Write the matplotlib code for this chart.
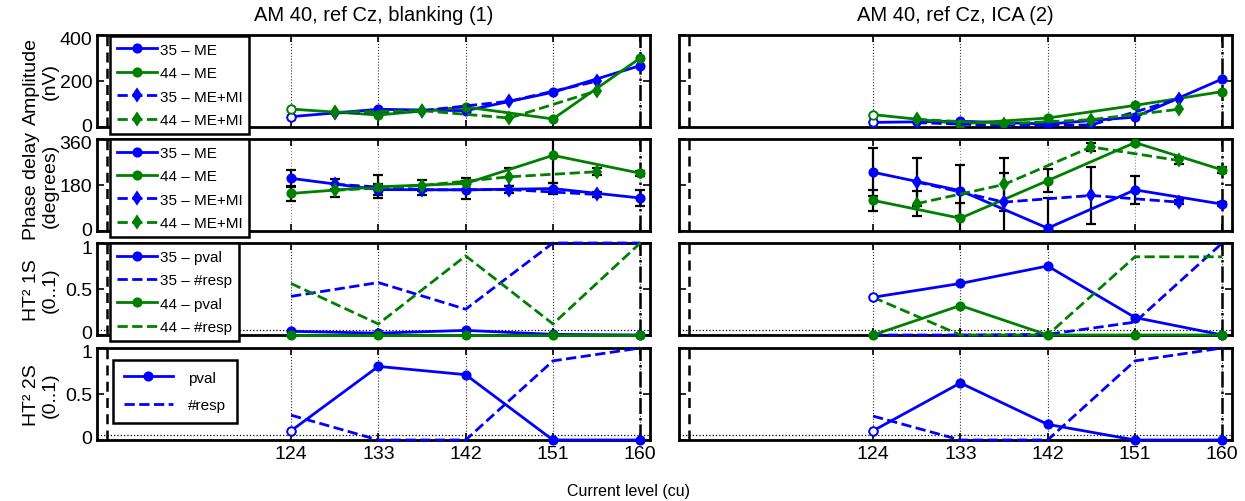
import matplotlib
matplotlib.use("Agg")
import matplotlib.pyplot as plt
from matplotlib.transforms import ScaledTranslation

plt.rcParams['font.family'] = ['Liberation Sans', 'DejaVu Sans']

# current levels
x_me = [124, 133, 142, 151, 160]
x_mi = [128.5, 137.5, 146.5, 155.5]
x_ticks = [124, 133, 142, 151, 160]

titles = ['AM 40, ref Cz, blanking (1)', 'AM 40, ref Cz, ICA (2)']

# amplitude (nV)
amp_35_me = [[45, 77, 71, 151, 267], [20, 25, 13, 43, 209]]
amp_44_me = [[78, 52, 87, 35, 300], [54, 14, 39, 94, 154]]
amp_35_mi = [[61, 71, 112, 199], [19, 6, 9, 122]]
amp_44_mi = [[64, 71, 39, 157], [33, 14, 32, 77]]

# phase delay (degrees) and error bars
ph_35_me = [[206, 162, 161, 166, 129], [230, 158, 11, 161, 105]]
ph_44_me = [[147, 173, 186, 296, 226], [120, 50, 197, 346, 239]]
ph_35_mi = [[183, 161, 162, 143], [192, 113, 139, 113]]
ph_44_mi = [[159, 178, 212, 232], [107, 182, 329, 276]]
err_35_me = [[34, 20, 35, 22, 30], [94, 100, 120, 55, 8]]
err_44_me = [[30, 45, 20, 110, 10], [40, 60, 44, 10, 12]]
err_35_mi = [[20, 20, 15, 8], [95, 115, 110, 8]]
err_44_mi = [[25, 22, 36, 13], [50, 105, 15, 15]]

# HT2 one-sample
p1s_35 = [[0.04, 0.02, 0.05, 0.007, 0], [0.41, 0.56, 0.75, 0.19, 0]]
r1s_35 = [[0.42, 0.57, 0.28, 1.0, 1.0], [0, 0, 0.007, 0.14, 1.0]]
p1s_44 = [[0, 0, 0, 0, 0], [0, 0.32, 0, 0, 0]]
r1s_44 = [[0.56, 0.12, 0.86, 0.12, 1.0], [0.41, 0, 0, 0.85, 0.85]]

# HT2 two-sample
p2s = [[0.10, 0.80, 0.71, 0, 0], [0.10, 0.62, 0.17, 0, 0]]
r2s = [[0.27, 0, 0, 0.86, 1.0], [0.26, 0, 0, 0.86, 1.0]]

BLUE = '#0000ff'
GREEN = '#008000'

W, H = 1245, 502
lefts = [97, 679]
tops = [36, 140, 244, 349]
aw, ah = 553, 92


def line(ax, x, y, color, ls, marker, label=None, hollow=False, clip=True):
    ax.plot(x, y, color=color, ls=ls, lw=2.0, marker=marker, ms=6, mfc=color,
            mec=color, mew=1.3, label=label, clip_on=clip, zorder=3)
    if hollow:
        ax.plot(x[:1], y[:1], ls='none', marker=marker, ms=6, mfc='white',
                mec=color, mew=1.3, clip_on=clip, zorder=4)


def legend(ax, anchor, spacing, hlen, tpad, bpad=0.45):
    leg = ax.legend(loc='upper left', bbox_to_anchor=anchor, borderaxespad=0,
                    fontsize=11, labelspacing=spacing, handlelength=hlen,
                    handletextpad=tpad, borderpad=bpad, fancybox=False,
                    framealpha=1, edgecolor='k')
    leg.get_frame().set_linewidth(1.8)
    leg.set_zorder(10)


fig = plt.figure(figsize=(W / 100, H / 100), dpi=100)
shift = 3 / 100

for c in range(2):
    axs = []
    for r in range(4):
        ax = fig.add_axes([lefts[c] / W, 1 - (tops[r] + ah) / H, aw / W, ah / H])
        axs.append(ax)
        ax.set_xlim(104, 161)
        ax.set_xticks(x_ticks)
        ax.set_axisbelow(True)
        ax.grid(axis='x', ls=':', lw=0.8, color='0.55' if r == 1 else '0.2')
        ax.axvline(105, color='k', ls='--', lw=1.8, dashes=(4, 2.5), zorder=2)
        ax.axvline(160, color='k', ls='-.', lw=1.8, zorder=2)
        ax.tick_params(direction='in', top=True, right=True, length=5, width=1.2,
                       labelsize=14, labelbottom=(r == 3), labelleft=(c == 0))
        for s in ax.spines.values():
            s.set_linewidth(2.0)

    # amplitude
    ax = axs[0]
    line(ax, x_me, amp_35_me[c], BLUE, '-', 'o', '35 – ME', hollow=True)
    line(ax, x_me, amp_44_me[c], GREEN, '-', 'o', '44 – ME', hollow=True)
    line(ax, x_mi, amp_35_mi[c], BLUE, '--', 'd', '35 – ME+MI')
    line(ax, x_mi, amp_44_mi[c], GREEN, '--', 'd', '44 – ME+MI')
    ax.set_ylim(0, 400)
    ax.set_yticks([0, 200, 400])
    ax.set_title(titles[c], fontsize=14.5, pad=11)

    # phase
    ax = axs[1]
    for xs, ys, es in [(x_me, ph_35_me[c], err_35_me[c]), (x_me, ph_44_me[c], err_44_me[c]),
                       (x_mi, ph_35_mi[c], err_35_mi[c]), (x_mi, ph_44_mi[c], err_44_mi[c])]:
        ax.errorbar(xs, ys, yerr=es, fmt='none', ecolor='k', elinewidth=1.6,
                    capsize=3.5, capthick=1.6, zorder=2.5)
    line(ax, x_me, ph_35_me[c], BLUE, '-', 'o', '35 – ME')
    line(ax, x_me, ph_44_me[c], GREEN, '-', 'o', '44 – ME')
    line(ax, x_mi, ph_35_mi[c], BLUE, '--', 'd', '35 – ME+MI')
    line(ax, x_mi, ph_44_mi[c], GREEN, '--', 'd', '44 – ME+MI')
    ax.set_ylim(0, 360)
    ax.set_yticks([0, 180, 360])

    # HT2 1S
    ax = axs[2]
    ax.axhline(0.05, color='k', ls=':', lw=0.9, zorder=2)
    line(ax, x_me, p1s_35[c], BLUE, '-', 'o', '35 – pval', hollow=(c == 1), clip=False)
    line(ax, x_me, r1s_35[c], BLUE, '--', None, '35 – #resp', clip=False)
    line(ax, x_me, p1s_44[c], GREEN, '-', 'o', '44 – pval', clip=False)
    line(ax, x_me, r1s_44[c], GREEN, '--', None, '44 – #resp', clip=False)

    # HT2 2S
    ax = axs[3]
    ax.axhline(0.05, color='k', ls=':', lw=0.9, zorder=2)
    line(ax, x_me, p2s[c], BLUE, '-', 'o', 'pval', hollow=True, clip=False)
    line(ax, x_me, r2s[c], BLUE, '--', None, '#resp', clip=False)

    for ax in axs[2:]:
        ax.set_ylim(0, 1)
        ax.set_yticks([0, 0.5, 1], ['0', '0.5', '1'])

    if c == 0:
        # keep the edge tick labels of stacked rows apart
        for ax in axs:
            labs = ax.get_yticklabels()
            labs[0].set_transform(labs[0].get_transform() + ScaledTranslation(0, shift, fig.dpi_scale_trans))
            labs[-1].set_transform(labs[-1].get_transform() + ScaledTranslation(0, -shift, fig.dpi_scale_trans))
        legend(axs[0], (13 / aw, 0.99), 0.62, 2.6, 0.2)
        legend(axs[1], (13 / aw, 1.0), 0.62, 2.6, 0.2)
        legend(axs[2], (13 / aw, 1.0), 0.62, 2.6, 0.2)
        legend(axs[3], (16 / aw, 0.87), 0.9, 3.2, 1.0, bpad=0.7)
        ylabels = ['Amplitude\n(nV)', 'Phase delay\n(degrees)', 'HT² 1S\n(0..1)', 'HT² 2S\n(0..1)']
        for ax, lab in zip(axs, ylabels):
            ax.set_ylabel(lab, fontsize=14, linespacing=1.1)
            ax.yaxis.set_label_coords(-0.07, 0.5)

fig.text(0.505, 0.005, 'Current level (cu)', ha='center', va='bottom', fontsize=11.5)

plt.savefig('out.png', dpi=100)
plt.close()
